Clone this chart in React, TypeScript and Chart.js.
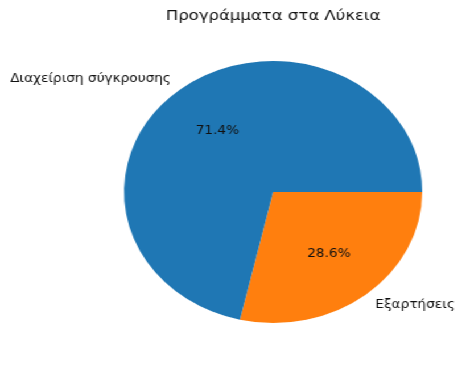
import React, { useEffect, useRef } from "react";
import { Chart, registerables } from "chart.js";

Chart.register(...registerables);

const title = "Προγράμματα στα Λύκεια";
const categories = ["Διαχείριση σύγκρουσης", "Εξαρτήσεις"];
const values = [5, 2];
const colors = ["#1f77b4", "#ff7f0e"];

const SX = 1.138;
const W = 412;
const H = 365;
const FONT = "'DejaVu Sans', sans-serif";

const labelPlugin = {
  id: "pieLabels",
  afterDraw(chart: any) {
    const ctx = chart.ctx;
    const meta = chart.getDatasetMeta(0);
    const total = values.reduce((a, b) => a + b, 0);
    ctx.save();
    ctx.fillStyle = "#111";
    ctx.textBaseline = "middle";
    // title
    ctx.font = `14.5px ${FONT}`;
    ctx.textAlign = "center";
    const arc0 = meta.data[0];
    ctx.fillText(title, arc0.x, 16);
    meta.data.forEach((arc: any, i: number) => {
      const idx = chart.data.datasets[0].srcIndex[i];
      const mid = (arc.startAngle + arc.endAngle) / 2;
      const r = arc.outerRadius;
      const c = Math.cos(mid);
      const s = Math.sin(mid);
      ctx.font = `12px ${FONT}`;
      ctx.textAlign = c < 0 ? "right" : "left";
      ctx.fillText(categories[idx], arc.x + 1.1 * r * c, arc.y + 1.1 * r * s);
      ctx.textAlign = "center";
      const pct = ((values[idx] / total) * 100).toFixed(1) + "%";
      ctx.fillText(pct, arc.x + 0.6 * r * c, arc.y + 0.6 * r * s);
    });
    ctx.restore();
  },
};

export default function App() {
  const ref = useRef<HTMLCanvasElement>(null);
  useEffect(() => {
    document.body.style.margin = "0";
    const order = [1, 0];
    const chart = new Chart(ref.current!, {
      type: "pie",
      data: {
        labels: order.map((i) => categories[i]),
        datasets: [
          {
            data: order.map((i) => values[i]),
            backgroundColor: order.map((i) => colors[i]),
            borderWidth: 0,
            srcIndex: order,
          } as any,
        ],
      },
      options: {
        animation: false,
        responsive: true,
        maintainAspectRatio: false,
        rotation: 90,
        layout: { padding: { top: 61, bottom: 42, left: 109, right: 41 } },
        plugins: {
          legend: { display: false },
          tooltip: { enabled: false },
          title: { display: false },
        },
      },
      plugins: [labelPlugin],
    });
    return () => chart.destroy();
  }, []);
  return (
    <div
      style={{
        position: "absolute",
        left: 0,
        top: 0,
        width: W,
        height: H,
        transform: `scaleX(${SX})`,
        transformOrigin: "0 0",
        background: "#fff",
      }}
    >
      <canvas ref={ref} />
    </div>
  );
}
